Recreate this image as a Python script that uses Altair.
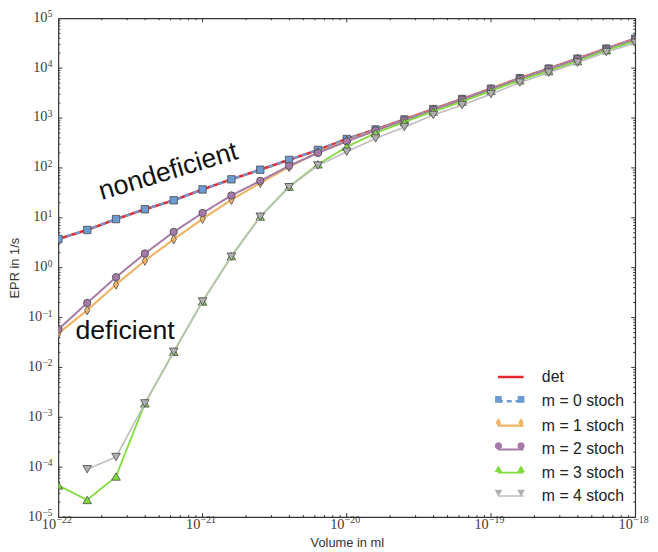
import altair as alt
import pandas as pd

# ---------------- data ----------------
volume = [1.0e-22, 1.585e-22, 2.512e-22, 3.981e-22, 6.310e-22,
          1.0e-21, 1.585e-21, 2.512e-21, 3.981e-21, 6.310e-21,
          1.0e-20, 1.585e-20, 2.512e-20, 3.981e-20, 6.310e-20,
          1.0e-19, 1.585e-19, 2.512e-19, 3.981e-19, 6.310e-19, 1.0e-18]
epr_det = [3.76, 5.7, 9.4, 14.8, 22.4, 37, 59, 92, 145, 229, 380,
           590, 935, 1510, 2400, 3870, 6300, 9800, 15500, 24600, 39000]
epr_m0 = [3.76, 5.7, 9.4, 14.8, 22.4, 37, 59, 92, 145, 229, 380,
          590, 935, 1510, 2400, 3870, 6300, 9800, 15500, 24600, 39000]
epr_m1 = [0.048, 0.14, 0.46, 1.38, 3.7, 9.5, 23, 50, 105, 205, 350,
          565, 905, 1470, 2350, 3790, 6150, 9600, 15200, 24200, 38000]
epr_m2 = [0.058, 0.196, 0.645, 1.92, 5.2, 12.5, 28, 55, 110, 200, 340,
          560, 900, 1460, 2340, 3780, 6120, 9580, 15150, 24100, 37800]
epr_m3 = [4.3e-5, 2.2e-5, 6.5e-5, 1.9e-3, 0.0206, 0.21, 1.7, 10.6, 42, 118, 265,
          500, 830, 1350, 2130, 3500, 5700, 8700, 13800, 22800, 35000]
epr_m4 = [None, 9.1e-5, 1.6e-4, 1.9e-3, 0.0206, 0.21, 1.66, 10.5, 41, 112, 210,
          390, 660, 1150, 1820, 3020, 5140, 8100, 12900, 21000, 32000]

series_names = ["det", "m = 0 stoch", "m = 1 stoch", "m = 2 stoch", "m = 3 stoch", "m = 4 stoch"]
series_values = [epr_det, epr_m0, epr_m1, epr_m2, epr_m3, epr_m4]
line_colors = ["#e8282b", "#6b9bd2", "#f0b464", "#a57aa8", "#7fdc3c", "#bdbdbd"]
marker_colors = [None, "#6b9bd2", "#f2b466", "#a57aa8", "#7fdc3c", "#b0b0b0"]
line_dash = [[1, 0], [5, 4], [1, 0], [1, 0], [1, 0], [1, 0]]
line_width = [2.6, 1.6, 1.5, 1.5, 1.5, 1.5]
marker_shape = [None, "square", "M0,-1L0.55,0L0,1L-0.55,0Z", "circle", "triangle-up", "triangle-down"]
marker_size = [0, 56, 90, 56, 75, 75]

# tick values and tick labels (base "10" plus exponent)
x_decades = [1e-22, 1e-21, 1e-20, 1e-19, 1e-18]
x_exponents = ["−22", "−21", "−20", "−19", "−18"]
y_decades_neg = [1e-5, 1e-4, 1e-3, 1e-2, 1e-1]
y_exponents_neg = ["−5", "−4", "−3", "−2", "−1"]
y_decades_pos = [1e0, 1e1, 1e2, 1e3, 1e4, 1e5]
y_exponents_pos = ["0", "1", "2", "3", "4", "5"]
y_decades = y_decades_neg + y_decades_pos
x_minor = [m * d for d in x_decades[:-1] for m in range(2, 10)]
y_minor = [m * d for d in y_decades[:-1] for m in range(2, 10)]

ann_text = ["nondeficient", "deficient"]
ann_x = [6.0e-22, 2.9e-22]
ann_y = [59.0, 0.0366]
ann_angle = [343.3, 0]

# ---------------- helpers ----------------
W, H = 584, 505
LABEL_FONT = "Liberation Serif"
LABEL_COLOR = "#3a3a3a"

rows = []
for name, vals in zip(series_names, series_values):
    for v, e in zip(volume, vals):
        if e is not None:
            rows.append({"volume": v, "epr": e, "series": name})
df = pd.DataFrame(rows)

xscale = alt.Scale(type="log", domain=[1e-22, 1e-18], nice=False)
yscale = alt.Scale(type="log", domain=[1e-5, 1e5], nice=False)

xaxis = alt.Axis(values=x_decades, labels=False, title="Volume in ml",
                 titleY=20, titleBaseline="top")
yaxis = alt.Axis(values=y_decades, labels=False, title="EPR in 1/s", titleX=-37,
                 titleAngle=270, titleBaseline="bottom", titleAlign="center")

X = alt.X("volume:Q", scale=xscale, axis=xaxis)
Y = alt.Y("epr:Q", scale=yscale, axis=yaxis)

leg_common = dict(orient="none", legendX=443.5, legendY=348.7, padding=0,
                  labelFont="Liberation Sans", labelFontSize=16, labelColor="#222",
                  symbolSize=676, rowPadding=1.6, labelOffset=17, labelLimit=300)

line_legend = alt.Legend(symbolType="M-1,0H1", **leg_common)

layers = []


# inward ticks on all four sides
def tick_layer(vals, axis, side, length):
    d = pd.DataFrame({"v": vals})
    base = alt.Chart(d).mark_rule(color="#333", strokeWidth=1)
    if axis == "x":
        xx = alt.X("v:Q", scale=xscale, axis=xaxis)
        if side == "bottom":
            return base.encode(x=xx, y=alt.value(H), y2=alt.value(H - length))
        return base.encode(x=xx, y=alt.value(0), y2=alt.value(length))
    yy = alt.Y("v:Q", scale=yscale, axis=yaxis)
    if side == "left":
        return base.encode(y=yy, x=alt.value(0), x2=alt.value(length))
    return base.encode(y=yy, x=alt.value(W), x2=alt.value(W - length))


for side in ["bottom", "top"]:
    layers.append(tick_layer(x_decades[1:-1], "x", side, 4))
    layers.append(tick_layer(x_minor, "x", side, 2))
for side in ["left", "right"]:
    layers.append(tick_layer(y_decades[1:-1], "y", side, 4))
    layers.append(tick_layer(y_minor, "y", side, 2))


# tick labels drawn as "10" with a raised exponent
def x_label_layers():
    d = pd.DataFrame({"v": x_decades, "e": x_exponents, "b": ["10"] * len(x_decades)})
    xx = alt.X("v:Q", scale=xscale, axis=xaxis)
    base_txt = alt.Chart(d).mark_text(font=LABEL_FONT, fontSize=14.5, color=LABEL_COLOR,
                                      align="right", baseline="alphabetic", dx=-2.3).encode(
        x=xx, y=alt.value(H + 12.5), text="b:N")
    exp_txt = alt.Chart(d).mark_text(font=LABEL_FONT, fontSize=10, color=LABEL_COLOR,
                                     align="left", baseline="alphabetic", dx=-2).encode(
        x=xx, y=alt.value(H + 6.3), text="e:N")
    return [base_txt, exp_txt]


def y_label_layers(vals, exps, exp_width):
    d = pd.DataFrame({"v": vals, "e": exps, "b": ["10"] * len(vals)})
    yy = alt.Y("v:Q", scale=yscale, axis=yaxis)
    base_txt = alt.Chart(d).mark_text(font=LABEL_FONT, fontSize=14.5, color=LABEL_COLOR,
                                      align="right", baseline="alphabetic", dy=3.5).encode(
        y=yy, x=alt.value(-6 - exp_width), text="b:N")
    exp_txt = alt.Chart(d).mark_text(font=LABEL_FONT, fontSize=9.5, color=LABEL_COLOR,
                                     align="right", baseline="alphabetic", dy=-1).encode(
        y=yy, x=alt.value(-6), text="e:N")
    return [base_txt, exp_txt]


layers += x_label_layers()
layers += y_label_layers(y_decades_neg, y_exponents_neg, 10.3)
layers += y_label_layers(y_decades_pos, y_exponents_pos, 5.0)

for i, name in enumerate(series_names):
    base = alt.Chart(df).transform_filter(alt.datum.series == name)
    line = base.mark_line(clip=True).encode(
        x=X, y=Y,
        stroke=alt.Stroke("series:N", title=None,
                          scale=alt.Scale(domain=series_names, range=line_colors),
                          legend=line_legend),
        strokeDash=alt.StrokeDash("series:N", title=None,
                                  scale=alt.Scale(domain=series_names, range=line_dash),
                                  legend=line_legend),
        strokeWidth=alt.StrokeWidth("series:N", title=None,
                                    scale=alt.Scale(domain=series_names, range=line_width),
                                    legend=line_legend),
    )
    layers.append(line)
    if marker_shape[i] is not None:
        pts = base.mark_point(shape=marker_shape[i], filled=True, fill=marker_colors[i],
                              stroke="#4a4a4a", strokeWidth=0.8, size=marker_size[i],
                              opacity=1, clip=True).encode(x=X, y=Y)
        layers.append(pts)

# annotations
for t, ax, ay, ang in zip(ann_text, ann_x, ann_y, ann_angle):
    d = pd.DataFrame({"volume": [ax], "epr": [ay], "text": [t]})
    layers.append(alt.Chart(d).mark_text(font="Liberation Sans", fontSize=27, angle=ang,
                                         align="center", baseline="alphabetic",
                                         color="#111").encode(x=X, y=Y, text="text:N"))

# marker part of legend (no data drawn; only legend symbols)
c, h = 0.88, 0.26
leg_paths = [
    "M0,0L0,0Z",
    f"M{-c-h},{-h}H{-c+h}V{h}H{-c-h}Z M{c-h},{-h}H{c+h}V{h}H{c-h}Z",
    f"M{-c},-0.36L{-c+0.21},0L{-c},0.36L{-c-0.21},0Z M{c},-0.36L{c+0.21},0L{c},0.36L{c-0.21},0Z",
    f"M{-c-0.28},0A0.28,0.28 0 1,0 {-c+0.28},0A0.28,0.28 0 1,0 {-c-0.28},0Z "
    f"M{c-0.28},0A0.28,0.28 0 1,0 {c+0.28},0A0.28,0.28 0 1,0 {c-0.28},0Z",
    f"M{-c},-0.3L{-c+0.3},0.22L{-c-0.3},0.22Z M{c},-0.3L{c+0.3},0.22L{c-0.3},0.22Z",
    f"M{-c},0.3L{-c+0.3},-0.22L{-c-0.3},-0.22Z M{c},0.3L{c+0.3},-0.22L{c-0.3},-0.22Z",
]
leg_fill = ["transparent"] + marker_colors[1:]
mkeys = [n + " " for n in series_names]
marker_legend = alt.Legend(labelOpacity=0, symbolStrokeColor="#4a4a4a",
                           symbolStrokeWidth=0.8, **leg_common)
dummy = alt.Chart(df).transform_calculate(mkey="datum.series + ' '").transform_filter("false").mark_point(
    filled=True, size=676, opacity=1, stroke="#4a4a4a", strokeWidth=0.8).encode(
    x=X, y=Y,
    shape=alt.Shape("mkey:N", title=None, scale=alt.Scale(domain=mkeys, range=leg_paths),
                    legend=marker_legend),
    fill=alt.Fill("mkey:N", title=None, scale=alt.Scale(domain=mkeys, range=leg_fill),
                  legend=marker_legend),
)
layers.append(dummy)

chart = alt.layer(*layers).properties(
    width=W, height=H,
    padding={"left": 51, "top": 7, "right": 15, "bottom": 32},
    autosize=alt.AutoSizeParams(type="none"),
    background="white",
).configure_view(stroke="#333", strokeWidth=1.2).configure_axis(
    titleFont="Liberation Sans", titleFontSize=13, titleColor="#333", titleFontWeight="normal",
    domain=False, ticks=False, grid=False,
)

chart.save("out.html", embed_options={"renderer": "svg", "actions": False})
